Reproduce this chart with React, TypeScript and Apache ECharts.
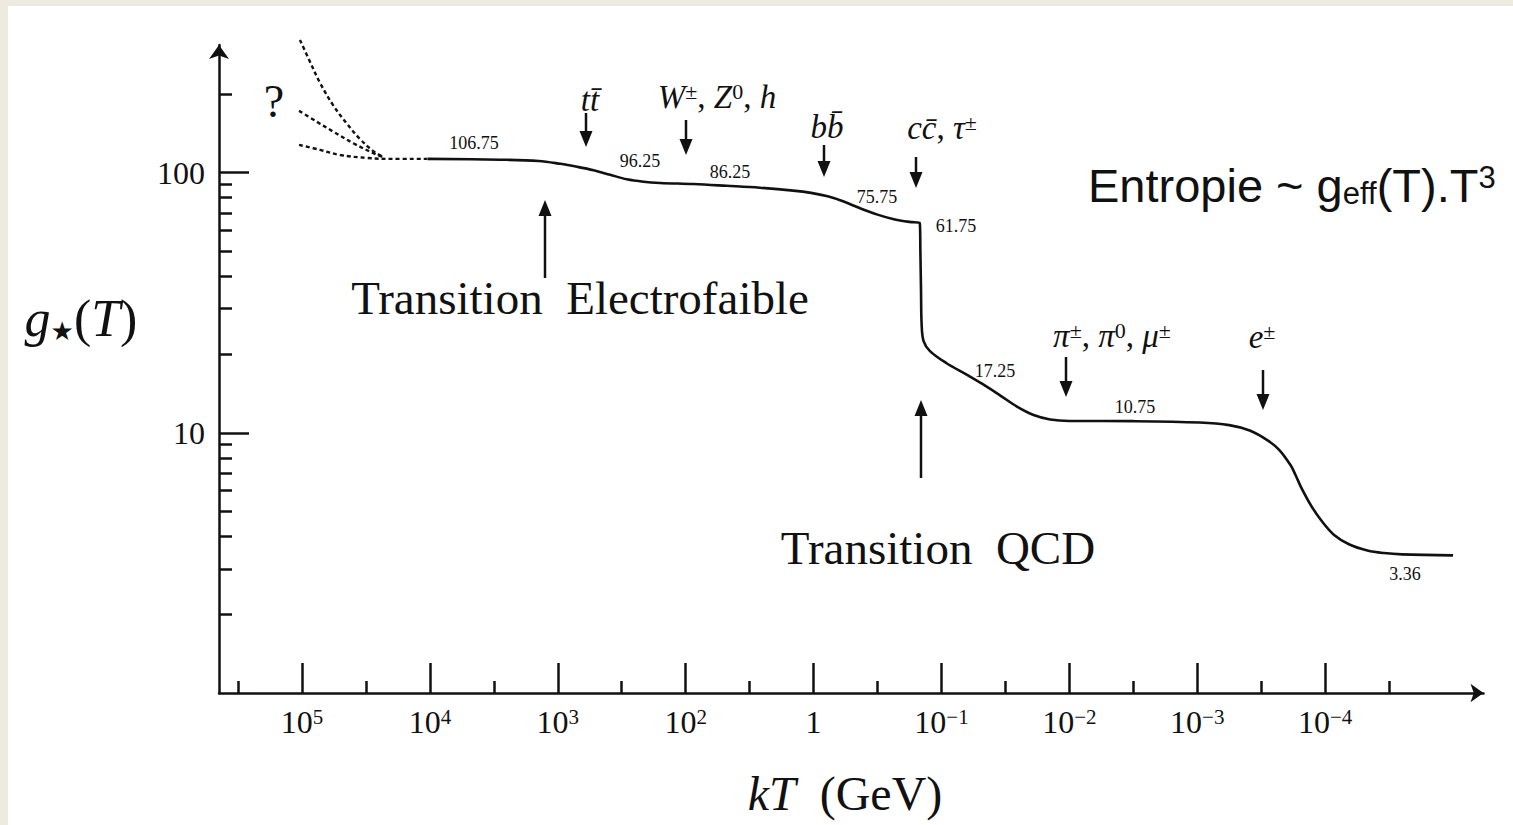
import React, { useEffect, useRef } from 'react';
import * as echarts from 'echarts';

// ---------- data ----------
// x axis: position along the drawn kT axis, one unit per labelled decade tick
const xTickLabels = ['10^5', '10^4', '10^3', '10^2', '1', '10^−1', '10^−2', '10^−3', '10^−4'];
const xMajorTicks = [0, 1, 2, 3, 4, 5, 6, 7, 8];
const xMinorTicks = [-0.5, 0.5, 1.5, 2.5, 3.5, 4.5, 5.5, 6.5, 7.5, 8.5];
const yMajorTicks = [10, 100];
const yMinorTicks = [2, 3, 4, 5, 6, 7, 8, 9, 20, 30, 40, 50, 60, 70, 80, 90, 200];

// g*(T) main curve
const curveX = [0.98, 1.55, 1.85, 2.02, 2.15, 2.28, 2.41, 2.54, 2.67, 2.80, 3.06, 3.32, 3.58, 3.84, 3.98, 4.11, 4.23, 4.36, 4.50, 4.62, 4.75, 4.83, 4.835, 4.84, 4.845, 4.86, 4.91, 5.04, 5.20, 5.32, 5.46, 5.59, 5.72, 5.85, 6.00, 6.50, 7.02, 7.25, 7.41, 7.55, 7.64, 7.73, 7.77, 7.81, 7.89, 7.97, 8.07, 8.19, 8.33, 8.46, 8.60, 9.00];
const curveG = [112.8, 112.0, 110.8, 108.0, 105.2, 102.0, 98.0, 94.2, 92.2, 91.2, 90.3, 88.9, 87.4, 85.2, 83.5, 81.0, 77.5, 73.0, 68.9, 66.3, 64.6, 64.0, 50.0, 35.0, 26.0, 22.5, 20.6, 18.5, 16.7, 15.4, 13.9, 12.6, 11.7, 11.25, 11.1, 11.08, 10.95, 10.7, 10.2, 9.35, 8.6, 7.5, 6.85, 6.2, 5.25, 4.6, 4.05, 3.72, 3.53, 3.45, 3.41, 3.38];

// speculative (dashed) high-temperature branches
const dashTopX = [-0.016, 0.063, 0.141, 0.242, 0.352, 0.453, 0.555, 0.633];
const dashTopG = [323.3, 266.1, 221.0, 181.9, 153.8, 134.6, 121.1, 114.8];
const dashMidX = [-0.023, 0.114, 0.244, 0.401, 0.557, 0.633];
const dashMidG = [172.5, 156.9, 143.6, 129.6, 118.7, 114.8];
const dashLowX = [-0.023, 0.141, 0.297, 0.508, 0.688, 0.977];
const dashLowG = [127.7, 122.2, 116.8, 113.8, 112.8, 112.8];

// plateau value annotations
const plateauText = ['106.75', '96.25', '86.25', '75.75', '61.75', '17.25', '10.75', '3.36'];
const plateauPos = [[474, 143], [640, 161], [730, 172], [877, 197], [956, 226], [995, 371], [1135, 407], [1405, 574]];

// ---------- styling ----------
const SERIF = "'Liberation Serif', 'Times New Roman', 'DejaVu Serif', serif";
const SANS = "'Liberation Sans', Arial, sans-serif";
const INK = '#111';
const X_MIN = -0.649;
const X_MAX = 9.238;
const Y_MAX = 2.49;

const toPairs = (xs: number[], gs: number[]) => xs.map((x, i) => [x, Math.log10(gs[i])]);

function arrowDown(x: number, y1: number, y2: number) {
  return [
    { type: 'line', z: 10, shape: { x1: x, y1, x2: x, y2: y2 - 10 }, style: { stroke: INK, lineWidth: 2.5 } },
    { type: 'polygon', z: 10, shape: { points: [[x - 6.5, y2 - 16], [x + 6.5, y2 - 16], [x, y2]] }, style: { fill: INK } },
  ];
}
function arrowUp(x: number, y1: number, y2: number) {
  return [
    { type: 'line', z: 10, shape: { x1: x, y1: y1 + 10, x2: x, y2 }, style: { stroke: INK, lineWidth: 2.5 } },
    { type: 'polygon', z: 10, shape: { points: [[x - 6.5, y1 + 16], [x + 6.5, y1 + 16], [x, y1]] }, style: { fill: INK } },
  ];
}
function txt(text: string, x: number, y: number, size: number, extra: any = {}) {
  return {
    type: 'text', z: 10, x, y,
    style: { text, fontSize: size, fontFamily: SERIF, fill: INK, align: 'center', verticalAlign: 'middle', ...extra },
  };
}
const mathRich = (size: number) => ({
  i: { fontStyle: 'italic', fontSize: size, fontFamily: SERIF, fill: INK },
  r: { fontSize: size, fontFamily: SERIF, fill: INK },
  s: { fontSize: Math.round(size * 0.68), fontFamily: SERIF, fill: INK, verticalAlign: 'top' },
});

export default function App() {
  const ref = useRef<HTMLDivElement>(null);
  useEffect(() => {
    const chart = echarts.init(ref.current!, null, { renderer: 'svg' });

    const xLabelFormatter = (v: number) => {
      const s = xTickLabels[Math.round(v)] ?? '';
      const [b, e] = s.split('^');
      return e ? `{b|${b}}{e|${e}}` : `{b|${b}}`;
    };

    const graphic: any[] = [
      { type: 'rect', z: -1, shape: { x: 8, y: 6, width: 1513 - 8, height: 825 - 6 }, style: { fill: '#ffffff' } },
      ...arrowDown(586, 113, 147),
      ...arrowDown(686, 120, 155),
      ...arrowDown(824, 145, 177),
      ...arrowDown(916, 157, 188),
      ...arrowDown(1066, 357, 397),
      ...arrowDown(1263, 370, 410),
      ...arrowUp(545, 200, 278),
      ...arrowUp(921, 400, 478),
      txt('?', 274, 101, 46),
      txt('Transition  Electrofaible', 580, 298, 47),
      txt('Transition  QCD', 938, 548, 47),
      txt('{i|tt̄}', 590, 100, 33, { rich: mathRich(33) }),
      txt('{i|W}{s|±}{r|, }{i|Z}{s|0}{r|, }{i|h}', 717, 97, 33, { rich: mathRich(33) }),
      txt('{i|bb̄}', 827, 127, 33, { rich: mathRich(33) }),
      txt('{i|cc̄}{r|, }{i|τ}{s|±}', 942, 128, 33, { rich: mathRich(33) }),
      txt('{i|π}{s|±}{r|, }{i|π}{s|0}{r|, }{i|μ}{s|±}', 1112, 336, 33, { rich: mathRich(33) }),
      txt('{i|e}{s|±}', 1262, 337, 33, { rich: mathRich(33) }),
      txt('{i|g}{st|★}{r|(}{i|T}{r|)}', 81, 318, 52, {
        rich: {
          ...mathRich(52),
          st: { fontSize: 26, fontFamily: "'DejaVu Sans', sans-serif", fill: INK, verticalAlign: 'bottom' },
        },
      }),
      txt('{i|kT}{r|  (GeV)}', 845, 793, 48, { rich: mathRich(48) }),
      {
        type: 'text', z: 10, x: 1088, y: 185,
        style: {
          text: '{a|Entropie ~ g}{b|eff}{a|(T).T}{c|3}',
          fill: INK, align: 'left', verticalAlign: 'middle',
          rich: {
            a: { fontSize: 47, fontFamily: SANS, fill: INK },
            b: { fontSize: 31, fontFamily: SANS, fill: INK, verticalAlign: 'bottom' },
            c: { fontSize: 31, fontFamily: SANS, fill: INK, verticalAlign: 'top' },
          },
        },
      },
      ...plateauText.map((t, i) => txt(t, plateauPos[i][0], plateauPos[i][1], 18)),
    ];

    const dashed = (xs: number[], gs: number[]) => ({
      type: 'line', data: toPairs(xs, gs), showSymbol: false, clip: false, smooth: 0.4,
      lineStyle: { color: INK, width: 2.4, type: [4, 3] },
      silent: true,
    });

    chart.setOption({
      animation: false,
      backgroundColor: '#edeae0',
      grid: { left: 219, top: 45, right: 29.5, bottom: 132 },
      xAxis: [
        {
          type: 'value', min: X_MIN, max: X_MAX, position: 'bottom',
          axisLine: { show: true, onZero: false, symbol: ['none', 'arrow'], symbolSize: [14, 13], lineStyle: { color: INK, width: 2.5 } },
          axisTick: { show: true, inside: true, length: 30, customValues: xMajorTicks, lineStyle: { color: INK, width: 2.5 } },
          axisLabel: {
            show: true, customValues: xMajorTicks, margin: 13, formatter: xLabelFormatter,
            rich: {
              b: { fontSize: 32, fontFamily: SERIF, color: INK },
              e: { fontSize: 21, fontFamily: SERIF, color: INK, verticalAlign: 'top' },
            },
          },
          splitLine: { show: false },
        },
        {
          type: 'value', min: X_MIN, max: X_MAX, position: 'bottom',
          axisLine: { show: false, onZero: false },
          axisTick: { show: true, inside: true, length: 12, customValues: xMinorTicks, lineStyle: { color: INK, width: 2.5 } },
          axisLabel: { show: false },
          splitLine: { show: false },
        },
      ],
      yAxis: [
        {
          type: 'value', min: 0, max: Y_MAX, position: 'left',
          axisLine: { show: true, onZero: false, symbol: ['none', 'arrow'], symbolSize: [15, 14], lineStyle: { color: INK, width: 2.5 } },
          axisTick: { show: true, inside: true, length: 30, customValues: yMajorTicks.map(Math.log10), lineStyle: { color: INK, width: 2.5 } },
          axisLabel: {
            show: true, customValues: yMajorTicks.map(Math.log10), margin: 14,
            formatter: (v: number) => String(Math.round(Math.pow(10, v))),
            fontSize: 32, fontFamily: SERIF, color: INK,
          },
          splitLine: { show: false },
        },
        {
          type: 'value', min: 0, max: Y_MAX, position: 'left',
          axisLine: { show: false, onZero: false },
          axisTick: { show: true, inside: true, length: 13, customValues: yMinorTicks.map(Math.log10), lineStyle: { color: INK, width: 2.5 } },
          axisLabel: { show: false },
          splitLine: { show: false },
        },
      ],
      series: [
        {
          type: 'line', data: toPairs(curveX, curveG), showSymbol: false, clip: false,
          smooth: 0.35,
          lineStyle: { color: INK, width: 2.6 }, silent: true, z: 5,
        },
        dashed(dashTopX, dashTopG),
        dashed(dashMidX, dashMidG),
        dashed(dashLowX, dashLowG),
      ],
      graphic,
    });
    return () => chart.dispose();
  }, []);
  return <div ref={ref} style={{ position: 'fixed', left: 0, top: 0, width: 1513, height: 825 }} />;
}
